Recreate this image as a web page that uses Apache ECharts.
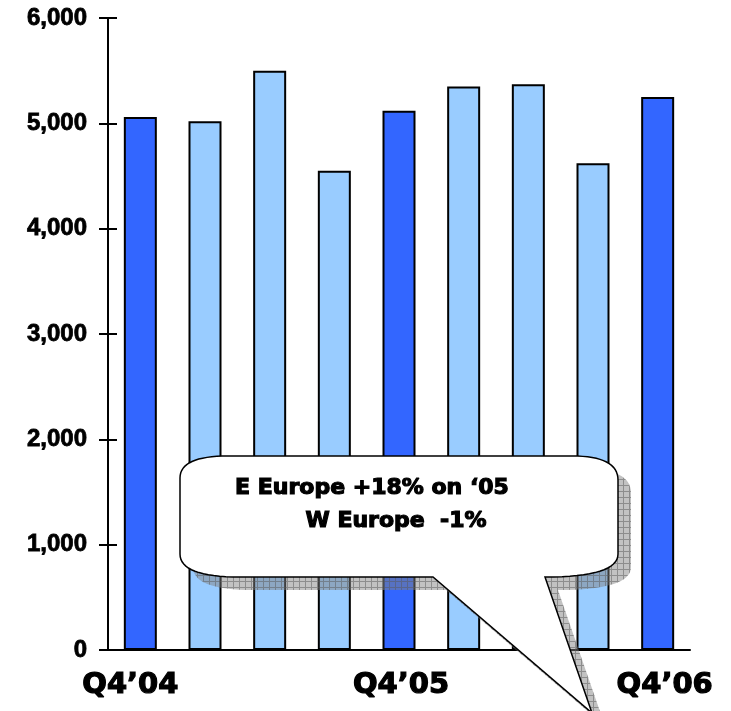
<!DOCTYPE html>
<html>
<head>
<meta charset="utf-8">
<title>Quarterly volumes Q4’04 – Q4’06</title>
<script src="https://cdn.jsdelivr.net/npm/echarts@6/dist/echarts.min.js"></script>
<style>
  html, body { margin: 0; padding: 0; background: #ffffff; }
  #chart { width: 731px; height: 711px; }
</style>
</head>
<body>
<div id="chart"></div>
<script>
// Quarters shown on the category axis (only every fourth one is labelled)
const quarters = ['Q4’04', 'Q1’05', 'Q2’05', 'Q3’05', 'Q4’05', 'Q1’06', 'Q2’06', 'Q3’06', 'Q4’06'];
// Volume per quarter
const volumes = [5060, 5020, 5500, 4550, 5120, 5350, 5370, 4620, 5250];
// Value axis range
const yMin = 0;
const yMax = 6000;
const yStep = 1000;
// Callout text lines
const calloutLines = ['E Europe +18% on ‘05', 'W Europe  -1%'];

const Q4_BLUE = '#3366FF';
const LIGHT_BLUE = '#99CCFF';

// Turn a list of path commands (M/L/Q) into polygon points
function outline(cmds, dx, dy) {
  const pts = [];
  let cur = null;
  cmds.forEach(c => {
    if (c[0] === 'M' || c[0] === 'L') {
      cur = [c[1], c[2]];
      pts.push([cur[0] + dx, cur[1] + dy]);
    } else if (c[0] === 'Q') {
      const [cx, cy, ex, ey] = [c[1], c[2], c[3], c[4]];
      const n = 16;
      for (let i = 1; i <= n; i++) {
        const t = i / n, u = 1 - t;
        const x = u * u * cur[0] + 2 * u * t * cx + t * t * ex;
        const y = u * u * cur[1] + 2 * u * t * cy + t * t * ey;
        pts.push([x + dx, y + dy]);
      }
      cur = [ex, ey];
    }
  });
  return pts;
}

// Speech balloon outline with a tail pointing down to the right
const balloon = [
  ['M', 228, 456],
  ['L', 572, 456],
  ['Q', 618, 456, 618, 480],
  ['L', 618, 554],
  ['Q', 618, 577, 545, 577],
  ['L', 592, 713],
  ['L', 433, 577],
  ['L', 240, 577],
  ['Q', 180, 577, 180, 554],
  ['L', 180, 478],
  ['Q', 180, 456, 228, 456]
];

// Cross-hatched fill for the balloon's drop shadow
const hatch = document.createElement('canvas');
hatch.width = 6;
hatch.height = 6;
(function () {
  const g = hatch.getContext('2d');
  g.fillStyle = 'rgba(128,128,128,0.48)';
  g.fillRect(0, 0, 6, 6);
  g.fillStyle = 'rgba(90,90,90,0.5)';
  g.fillRect(5, 0, 1, 6);
  g.fillRect(0, 5, 5, 1);
})();

const chart = echarts.init(document.getElementById('chart'), null, { renderer: 'canvas' });

const valueAxisBase = {
  type: 'value',
  min: yMin,
  max: yMax,
  interval: yStep,
  position: 'left',
  splitLine: { show: false }
};

// Heavy display text: bold face plus a thin outline in the same colour
const heavy = (family, size, stroke) => ({
  fontFamily: family,
  fontWeight: 'bold',
  fontSize: size,
  color: '#000',
  textBorderColor: '#000',
  textBorderWidth: stroke
});

const calloutText = (text, x, y) => ({
  type: 'text',
  silent: true,
  z: 52,
  x: x,
  y: y,
  style: {
    text: text,
    fill: '#000',
    stroke: '#000',
    lineWidth: 1.2,
    fontFamily: 'DejaVu Sans',
    fontWeight: 'bold',
    fontSize: 22,
    align: 'center',
    verticalAlign: 'middle'
  }
});

chart.setOption({
  animation: false,
  backgroundColor: '#ffffff',
  grid: { left: 108, right: 41, top: 18, bottom: 61, containLabel: false },
  xAxis: {
    type: 'category',
    data: quarters,
    axisLine: { show: true, lineStyle: { color: '#000', width: 2 } },
    axisTick: { show: false },
    axisLabel: Object.assign(heavy('DejaVu Sans', 29, 1.2), {
      interval: 3,
      margin: 21,
      formatter: (v, i) => {
        if (i === 0) return '{a|' + v + '}';
        if (i === quarters.length - 1) return '{c|' + v + '}';
        return '{b|' + v + '}';
      },
      rich: {
        a: Object.assign(heavy('DejaVu Sans', 29, 1.2), { padding: [0, 20, 0, 0] }),
        b: Object.assign(heavy('DejaVu Sans', 29, 1.2), { padding: [0, 0, 0, 4] }),
        c: Object.assign(heavy('DejaVu Sans', 29, 1.2), { padding: [0, 0, 0, 14] })
      }
    })
  },
  yAxis: [
    Object.assign({}, valueAxisBase, {
      axisLine: { show: true, lineStyle: { color: '#000', width: 2 } },
      axisTick: { show: true, length: 9, lineStyle: { color: '#000', width: 2 } },
      axisLabel: Object.assign(heavy('Liberation Sans', 24, 0.8), {
        margin: 21,
        formatter: v => v.toLocaleString('en-US')
      })
    }),
    // Same scale again, only to draw the inner half of each tick mark
    Object.assign({}, valueAxisBase, {
      axisLine: { show: false },
      axisTick: { show: true, inside: true, length: 9, lineStyle: { color: '#000', width: 2 } },
      axisLabel: { show: false }
    })
  ],
  series: [{
    type: 'bar',
    yAxisIndex: 0,
    barWidth: 33,
    data: volumes,
    itemStyle: {
      color: p => quarters[p.dataIndex].startsWith('Q4') ? Q4_BLUE : LIGHT_BLUE,
      borderColor: '#000',
      borderWidth: 2
    },
    z: 2
  }],
  graphic: [
    {
      type: 'polygon',
      silent: true,
      z: 50,
      shape: { points: outline(balloon, 13, 13) },
      style: { fill: { image: hatch, repeat: 'repeat' }, stroke: null }
    },
    {
      type: 'polygon',
      silent: true,
      z: 51,
      shape: { points: outline(balloon, 0, 0) },
      style: { fill: '#ffffff', stroke: '#000', lineWidth: 1.5, lineJoin: 'miter' }
    },
    calloutText(calloutLines[0], 372, 488),
    calloutText(calloutLines[1], 396, 521)
  ]
});
</script>
</body>
</html>
